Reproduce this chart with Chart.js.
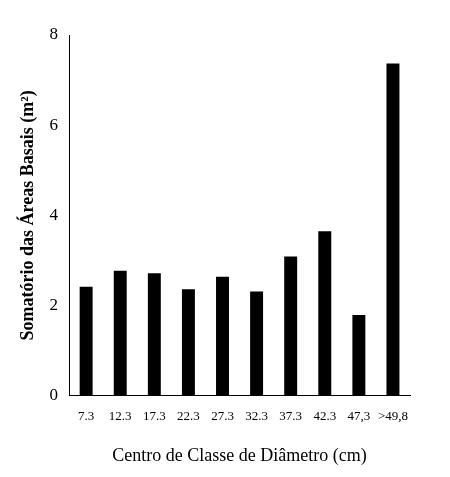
<!DOCTYPE html>
<html>
<head>
<meta charset="utf-8">
<script src="https://cdn.jsdelivr.net/npm/chart.js@4"></script>
<style>
  html, body { margin: 0; padding: 0; background: #fff; }
  #wrap { width: 450px; height: 477px; }
</style>
</head>
<body>
<div id="wrap"><canvas id="chart"></canvas></div>
<script>
const classes = ["7.3", "12.3", "17.3", "22.3", "27.3", "32.3", "37.3", "42.3", "47,3", ">49,8"];
const basalAreas = [2.42, 2.77, 2.72, 2.36, 2.64, 2.31, 3.09, 3.65, 1.79, 7.37];
const yTicks = [0, 2, 4, 6, 8];

const serif = "'Liberation Serif', 'Times New Roman', serif";

new Chart(document.getElementById('chart'), {
    type: 'bar',
    data: {
        labels: classes,
        datasets: [{
            data: basalAreas,
            backgroundColor: '#000',
            barPercentage: 0.38,
            categoryPercentage: 1.0
        }]
    },
    options: {
        responsive: true,
        maintainAspectRatio: false,
        animation: false,
        layout: { padding: { top: 35, right: 40, bottom: 6, left: 14 } },
        plugins: { legend: { display: false }, tooltip: { enabled: false } },
        scales: {
            x: {
                grid: { display: false, drawTicks: false },
                border: { display: true, color: '#000' },
                ticks: { color: '#000', font: { family: serif, size: 13 }, maxRotation: 0, autoSkip: false, padding: 13 },
                title: { display: true, text: 'Centro de Classe de Diâmetro (cm)', color: '#000', font: { family: serif, size: 18 }, padding: { top: 8 } }
            },
            y: {
                min: 0, max: 8,
                afterBuildTicks: axis => { axis.ticks = yTicks.map(v => ({ value: v })); },
                grid: { display: false, drawTicks: true, tickLength: 5, tickColor: '#000' },
                border: { display: true, color: '#000' },
                ticks: { color: '#000', font: { family: serif, size: 17 }, padding: 6 },
                title: { display: true, text: 'Somatório das Áreas Basais (m²)', color: '#000', font: { family: serif, size: 18, weight: 'bold' } }
            }
        }
    }
});
</script>
</body>
</html>
